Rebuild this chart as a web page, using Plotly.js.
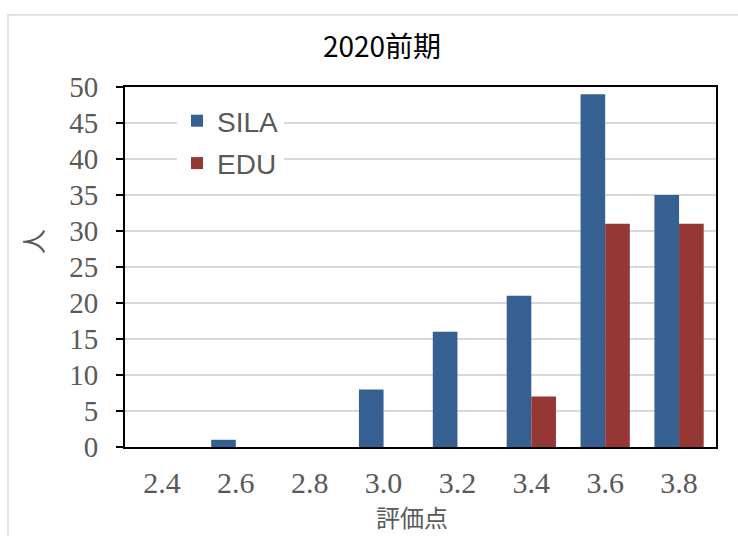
<!DOCTYPE html>
<html>
<head>
<meta charset="utf-8">
<script src="https://cdn.plot.ly/plotly-3.0.1.min.js"></script>
<style>body{margin:0;background:#fff}#chart{width:738px;height:536px}</style>
</head>
<body>
<div id="chart"></div>
<script>
const categories = ['2.4', '2.6', '2.8', '3.0', '3.2', '3.4', '3.6', '3.8'];
const silaValues = [0, 1, 0, 8, 16, 21, 49, 35];
const eduValues = [0, 0, 0, 0, 0, 7, 31, 31];
const yTicks = [0, 5, 10, 15, 20, 25, 30, 35, 40, 45, 50];

const L = 125, R = 716, T = 87, B = 447, W = 738, H = 536;
const pw = R - L, ph = B - T;
const px = v => (v - L) / pw;
const py = v => (B - v) / ph;

const traces = [
  {type: 'bar', name: 'SILA', x: categories, y: silaValues, legendgroup: 'a',
   marker: {color: '#376092', line: {width: 0}}},
  {type: 'bar', name: 'EDU', x: categories, y: eduValues, legendgroup: 'b',
   marker: {color: '#953735', line: {width: 0}}}
];

const layout = {
  width: W, height: H,
  margin: {l: L, r: W - R, t: T, b: H - B},
  paper_bgcolor: '#fff', plot_bgcolor: '#fff',
  barmode: 'group', bargap: 0.333, bargroupgap: 0,
  showlegend: true,
  title: {text: '2020前期', x: 382 / W, xanchor: 'center', y: 1 - 47 / H, yanchor: 'middle',
          font: {family: 'Noto Sans CJK JP', size: 28, color: '#000'}},
  legend: {x: px(177), y: py(96), xanchor: 'left', yanchor: 'top',
           bgcolor: '#fff', font: {family: 'Liberation Sans', size: 28, color: '#595959'},
           tracegroupgap: 3, itemwidth: 30},
  xaxis: {type: 'category', tickvals: categories, ticktext: categories,
          showline: true, linecolor: '#000', linewidth: 2, mirror: true,
          ticks: '', showgrid: false,
          tickfont: {family: 'Liberation Serif', size: 30, color: '#595959'},
          ticklabelstandoff: 8},
  yaxis: {range: [0, 50], tickvals: yTicks, ticktext: yTicks.map(String),
          showline: true, linecolor: '#000', linewidth: 2, mirror: true,
          ticks: 'outside', ticklen: 7, tickcolor: '#000', tickwidth: 2,
          showgrid: true, gridcolor: '#d9d9d9', gridwidth: 1.5, zeroline: false,
          tickfont: {family: 'Liberation Serif', size: 29, color: '#595959'},
          ticklabelstandoff: 12},
  annotations: [
    {text: '評価点', xref: 'paper', yref: 'paper', x: px(412), y: py(516),
     xanchor: 'center', yanchor: 'middle', showarrow: false,
     font: {family: 'Noto Sans CJK JP', size: 24, color: '#595959'}},
    {text: '人', xref: 'paper', yref: 'paper', x: px(32), y: py(242),
     xanchor: 'center', yanchor: 'middle', showarrow: false, textangle: -90,
     font: {family: 'Noto Sans CJK JP', size: 25, color: '#595959'}}
  ],
  shapes: [
    {type: 'rect', xref: 'paper', yref: 'paper', layer: 'below',
     x0: px(8), x1: px(760), y0: py(560), y1: py(15),
     line: {color: '#d9d9d9', width: 1.5}, fillcolor: 'rgba(0,0,0,0)'}
  ]
};

Plotly.newPlot('chart', traces, layout, {displayModeBar: false, staticPlot: true});
</script>
</body>
</html>
